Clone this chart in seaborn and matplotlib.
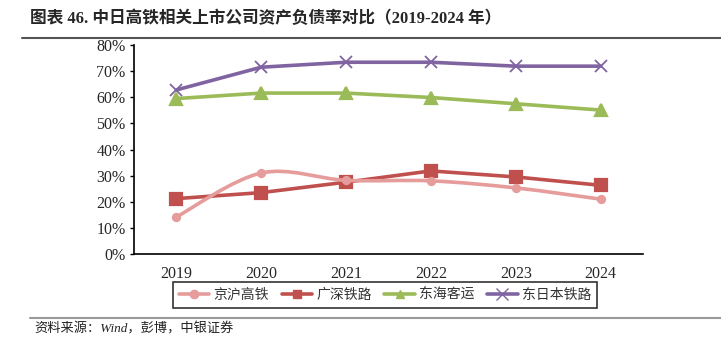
import numpy as np
import pandas as pd
import matplotlib
matplotlib.use("Agg")
import matplotlib.pyplot as plt
import seaborn as sns
from matplotlib.path import Path
from matplotlib.patches import PathPatch
from matplotlib.lines import Line2D
from matplotlib.ticker import FuncFormatter

years = ["2019", "2020", "2021", "2022", "2023", "2024"]
jinghu = [14.2, 31.0, 28.2, 28.0, 25.3, 21.0]
guangshen = [21.2, 23.5, 27.5, 31.8, 29.5, 26.3]
donghai = [59.5, 61.6, 61.6, 59.9, 57.5, 55.1]
jr_east = [62.8, 71.5, 73.4, 73.4, 71.9, 71.9]
series_names = ["京沪高铁", "广深铁路", "东海客运", "东日本铁路"]
y_ticks = [0, 10, 20, 30, 40, 50, 60, 70, 80]

colors = ["#E59C9B", "#C0504D", "#9BBB59", "#8064A2"]
markers = ["o", "s", "^", "x"]

sns.set_style("white")
plt.rcParams["font.family"] = ["Liberation Serif", "Noto Sans CJK SC"]

fig = plt.figure(figsize=(7.21, 3.53), dpi=100)
ax = fig.add_axes([134 / 721, 1 - 254 / 353, 509 / 721, 209 / 353])

df = pd.DataFrame({"year": years * 4,
                   "value": jinghu + guangshen + donghai + jr_east,
                   "series": sum([[n] * 6 for n in series_names], [])})
df["x"] = list(range(6)) * 4

# straight series
for i, name in enumerate(series_names[1:], start=1):
    sub = df[df.series == name]
    kw = dict(markersize=8, markeredgewidth=1.6)
    if markers[i] == "x":
        kw = dict(markersize=9, markeredgewidth=1.3)
    sns.lineplot(data=sub, x="x", y="value", ax=ax, color=colors[i], linewidth=2.6,
                 marker=markers[i], markeredgecolor=colors[i], legend=False, **kw)

# smoothed series (Excel-style Bezier through the data points)
xs = np.arange(6, dtype=float)
ys = np.array(jinghu, dtype=float)
pts = np.column_stack([xs, ys])
verts = [tuple(pts[0])]
codes = [Path.MOVETO]
n = len(pts)
for i in range(n - 1):
    p0 = pts[max(i - 1, 0)]
    p1 = pts[i]
    p2 = pts[i + 1]
    p3 = pts[min(i + 2, n - 1)]
    c1 = p1 + (p2 - p0) / 6.0
    c2 = p2 - (p3 - p1) / 6.0
    verts += [tuple(c1), tuple(c2), tuple(p2)]
    codes += [Path.CURVE4] * 3
ax.add_patch(PathPatch(Path(verts, codes), facecolor="none", edgecolor=colors[0],
                       linewidth=2.6, zorder=2))
sub = df[df.series == series_names[0]]
sns.scatterplot(data=sub, x="x", y="value", ax=ax, color=colors[0], marker="o",
                s=45, edgecolor=colors[0], linewidth=0, zorder=3, legend=False)

ax.set_xlim(-0.5, 5.5)
ax.set_ylim(0, 80)
ax.set_xticks(range(6))
ax.set_xticklabels(years)
ax.set_yticks(y_ticks)
ax.yaxis.set_major_formatter(FuncFormatter(lambda v, p: f"{int(v)}%"))
ax.set_xlabel("")
ax.set_ylabel("")
for s in ["top", "right"]:
    ax.spines[s].set_visible(False)
for s in ["left", "bottom"]:
    ax.spines[s].set_color("black")
    ax.spines[s].set_linewidth(1.2)
ax.tick_params(axis="y", which="major", direction="out", length=3, width=1, color="black",
               labelsize=11.5, pad=3, left=True)
ax.tick_params(axis="x", which="major", length=0, labelsize=11.5, pad=9)
for lab in ax.get_xticklabels() + ax.get_yticklabels():
    lab.set_fontfamily(["Liberation Serif"])

handles = []
for i, name in enumerate(series_names):
    ms = 6 if markers[i] != "x" else 8
    handles.append(Line2D([0], [0], color=colors[i], linewidth=2.6, marker=markers[i],
                          markersize=ms, markeredgecolor=colors[i]))
leg = fig.legend(handles, series_names, loc="center", bbox_to_anchor=(385 / 721, 1 - 295 / 353),
                 ncol=4, frameon=True, fancybox=False, handlelength=2.2, columnspacing=0.9,
                 handletextpad=0.3, borderpad=0.45,
                 prop={"family": ["Noto Sans CJK SC"], "size": 10})
leg.get_frame().set_edgecolor("black")
leg.get_frame().set_linewidth(1.2)
for t in leg.get_texts():
    t.set_color("#333333")

fig.text(30 / 721, 1 - 19 / 353, "图表 46. 中日高铁相关上市公司资产负债率对比（2019-2024 年）",
         ha="left", va="center", fontsize=12, fontweight="bold",
         family=["Liberation Serif", "Noto Sans CJK SC"])
fig.add_artist(Line2D([22 / 721, 1], [1 - 37.5 / 353] * 2, color="#555555", linewidth=1.5))
fig.add_artist(Line2D([30 / 721, 1], [1 - 318 / 353] * 2, color="#999999", linewidth=1.5))
fig.text(34 / 721, 1 - 329 / 353, "资料来源：Wind，彭博，中银证券", ha="left", va="center",
         fontsize=9.5, style="italic", color="#222222",
         family=["Liberation Serif", "Noto Sans CJK SC"])

fig.savefig("out.png", dpi=100)
